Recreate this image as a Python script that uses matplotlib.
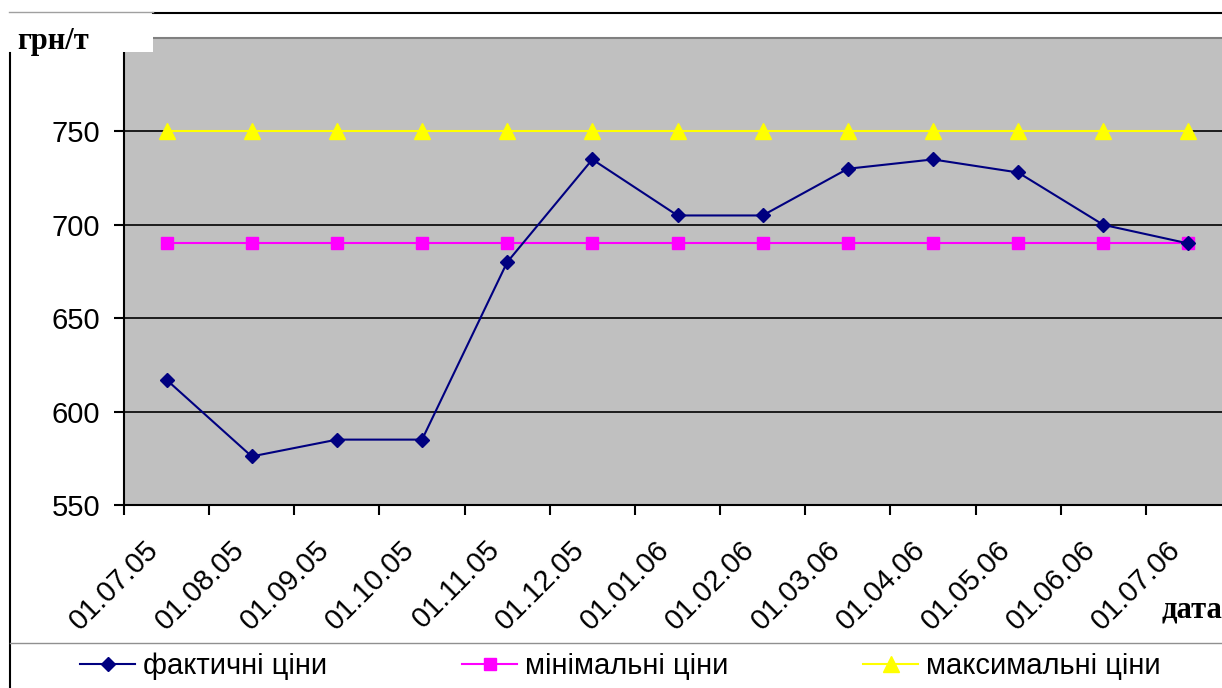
import matplotlib
matplotlib.use("Agg")
import matplotlib.pyplot as plt
import matplotlib.transforms as mtransforms
from matplotlib.lines import Line2D
from matplotlib.patches import Rectangle

# дані
dates = ['01.07.05', '01.08.05', '01.09.05', '01.10.05', '01.11.05', '01.12.05', '01.01.06',
         '01.02.06', '01.03.06', '01.04.06', '01.05.06', '01.06.06', '01.07.06']
fact_prices = [617, 576, 585, 585, 680, 735, 705, 705, 730, 735, 728, 700, 690]
min_prices = [690] * 13
max_prices = [750] * 13
y_ticks = [550, 600, 650, 700, 750]

plt.rcParams['font.family'] = ['Liberation Sans', 'DejaVu Sans']
FS = 21

W, H = 1222, 688
fig = plt.figure(figsize=(W / 100, H / 100), dpi=100)
fig.patch.set_facecolor('white')

# область графіка (права частина виходить за край рисунка, як в оригіналі)
ax = fig.add_axes([124 / W, (H - 505) / H, (1231 - 124) / W, (505 - 38) / H])
ax.set_facecolor('#C0C0C0')

x = list(range(len(dates)))
ax.plot(x, max_prices, color='#FFFF00', lw=1.5, marker='^', ms=12, mec='#FFFF00',
        mfc='#FFFF00', label='максимальні ціни', zorder=3)
ax.plot(x, min_prices, color='#FF00FF', lw=1.5, marker='s', ms=8.5, mec='#FF00FF',
        mfc='#FF00FF', label='мінімальні ціни', zorder=4)
ax.plot(x, fact_prices, color='#000080', lw=1.5, marker='D', ms=7.5, mec='#000080',
        mfc='#000080', label='фактичні ціни', zorder=5)

ax.set_xlim(-0.5, len(dates) - 0.5)
ax.set_ylim(550, 800)
ax.set_yticks(y_ticks)
ax.grid(axis='y', color='black', lw=1.2, zorder=1)
ax.set_axisbelow(True)

ax.set_xticks(x)
ax.set_xticklabels(dates, rotation=45, ha='right', va='top', rotation_mode='anchor',
                   fontsize=FS)
ax.set_xticks([i - 0.5 for i in range(len(dates) + 1)], minor=True)
ax.tick_params(axis='x', which='major', length=0, pad=22)
ax.tick_params(axis='x', which='minor', length=7, width=1.5, direction='out')
ax.tick_params(axis='y', length=7, width=1.5, direction='out', pad=10, labelsize=FS)

# зсув підписів дат ліворуч, як в Excel
shift = mtransforms.ScaledTranslation(-0.22, 0, fig.dpi_scale_trans)
for lab in ax.get_xticklabels():
    lab.set_transform(lab.get_transform() + shift)

for side in ['left', 'bottom']:
    ax.spines[side].set_linewidth(1.5)
    ax.spines[side].set_color('black')
ax.spines['top'].set_color('#808080')
ax.spines['top'].set_linewidth(1.5)
ax.spines['right'].set_visible(False)

# рамки діаграми
fig.add_artist(Line2D([10 / W, 10 / W], [0, (H - 53) / H], color='black', lw=1.5))
fig.add_artist(Line2D([153 / W, 1], [(H - 13) / H] * 2, color='black', lw=1.5))
fig.add_artist(Line2D([9 / W, 153 / W], [(H - 12) / H] * 2, color='#A0A0A0', lw=1))
fig.add_artist(Line2D([10 / W, 1], [(H - 643) / H] * 2, color='#909090', lw=1))

# підпис осі Y у білому полі
fig.add_artist(Rectangle((11 / W, (H - 52) / H), (153 - 11) / W, (52 - 14) / H,
                         facecolor='white', edgecolor='none', zorder=10))
fig.text(17 / W, (H - 41) / H, 'грн/т', family=['Liberation Serif', 'DejaVu Serif'],
         fontsize=22, fontweight='bold', va='center', ha='left', zorder=11)
fig.text(1162 / W, (H - 610) / H, 'дата', family=['Liberation Serif', 'DejaVu Serif'],
         fontsize=22, fontweight='bold', va='center', ha='left')

# легенда
h, l = ax.get_legend_handles_labels()
order = [2, 1, 0]
fig.legend([h[i] for i in order], [l[i] for i in order], ncol=3,
           loc='center left', bbox_to_anchor=(80 / W, (H - 666) / H),
           frameon=False, fontsize=FS, handlelength=1.9, handletextpad=0.25,
           columnspacing=4.63, borderpad=0, borderaxespad=0)

fig.savefig('out.png', dpi=100)
